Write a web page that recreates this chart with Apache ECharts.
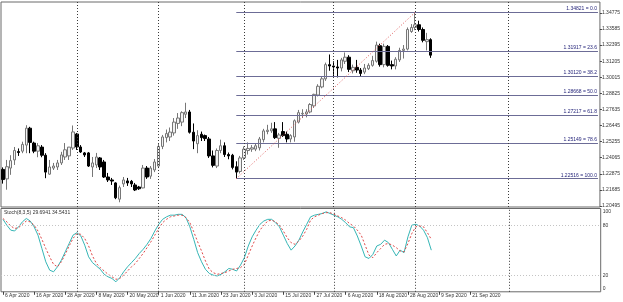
<!DOCTYPE html>
<html><head><meta charset="utf-8">
<script src="https://cdn.jsdelivr.net/npm/echarts@6/dist/echarts.min.js"></script>
<style>html,body{margin:0;padding:0;background:#fff}#c{width:623px;height:302px}</style>
</head><body><div id="c"></div>
<script>
// ---- data (GBPUSD daily) ----
const opens = [1.2320,1.2250,1.2330,1.2390,1.2452,1.2455,1.2500,1.2625,1.2515,1.2455,
1.2485,1.2425,1.2285,1.2330,1.2338,1.2368,1.2412,1.2420,1.2478,1.2582,
1.2486,1.2442,1.2442,1.2338,1.2353,1.2405,1.2375,1.2264,1.2242,1.2220,
1.2100,1.2213,1.2235,1.2232,1.2205,1.2190,1.2183,1.2330,1.2270,1.2316,
1.2345,1.2490,1.2555,1.2560,1.2590,1.2660,1.2670,1.2728,1.2745,1.2595,
1.2510,1.2580,1.2570,1.2545,1.2420,1.2345,1.2460,1.2495,1.2430,1.2425,
1.2340,1.2305,1.2405,1.2460,1.2470,1.2470,1.2480,1.2540,1.2600,1.2605,
1.2620,1.2550,1.2600,1.2580,1.2545,1.2560,1.2670,1.2730,1.2730,1.2745,
1.2790,1.2870,1.2930,1.2990,1.3095,1.3085,1.3078,1.3070,1.3120,1.3150,
1.3050,1.3075,1.3055,1.3040,1.3065,1.3090,1.3120,1.3235,1.3095,1.3230,
1.3095,1.3085,1.3130,1.3200,1.3210,1.3340,1.3370,1.3390,1.3355,1.3265,
1.3280];
const highs = [1.2335,1.2390,1.2425,1.2486,1.2475,1.2525,1.2647,1.2635,1.2525,1.2515,
1.2500,1.2440,1.2390,1.2368,1.2390,1.2450,1.2515,1.2486,1.2645,1.2590,
1.2500,1.2449,1.2449,1.2412,1.2442,1.2412,1.2390,1.2294,1.2257,1.2225,
1.2200,1.2264,1.2257,1.2242,1.2220,1.2198,1.2353,1.2345,1.2345,1.2397,
1.2510,1.2575,1.2615,1.2630,1.2700,1.2737,1.2750,1.2813,1.2760,1.2660,
1.2610,1.2600,1.2578,1.2560,1.2460,1.2475,1.2540,1.2520,1.2445,1.2435,
1.2380,1.2420,1.2490,1.2520,1.2500,1.2515,1.2560,1.2620,1.2650,1.2665,
1.2670,1.2590,1.2670,1.2600,1.2580,1.2690,1.2760,1.2765,1.2765,1.2810,
1.2880,1.2950,1.3010,1.3110,1.3170,1.3120,1.3130,1.3145,1.3185,1.3165,
1.3095,1.3130,1.3070,1.3100,1.3105,1.3160,1.3265,1.3250,1.3250,1.3240,
1.3125,1.3150,1.3220,1.3240,1.3370,1.3395,1.34821,1.3420,1.3370,1.3330,
1.3290];
const lows = [1.2215,1.2170,1.2280,1.2353,1.2420,1.2440,1.2440,1.2440,1.2440,1.2410,
1.2410,1.2255,1.2280,1.2316,1.2316,1.2353,1.2390,1.2390,1.2464,1.2464,
1.2442,1.2412,1.2338,1.2264,1.2330,1.2316,1.2257,1.2227,1.2205,1.2100,
1.2077,1.2190,1.2198,1.2190,1.2160,1.2168,1.2180,1.2250,1.2250,1.2300,
1.2330,1.2470,1.2520,1.2530,1.2570,1.2620,1.2640,1.2700,1.2585,1.2470,
1.2440,1.2530,1.2530,1.2405,1.2335,1.2330,1.2440,1.2412,1.2395,1.2320,
1.22516,1.2290,1.2390,1.2430,1.2450,1.2455,1.2460,1.2520,1.2580,1.2590,
1.2545,1.2480,1.2560,1.2520,1.2520,1.2525,1.2660,1.2700,1.2705,1.2735,
1.2775,1.2860,1.2920,1.2975,1.3050,1.3005,1.3000,1.3045,1.3100,1.3040,
1.3030,1.3035,1.3010,1.3025,1.3055,1.3080,1.3110,1.3080,1.3075,1.3080,
1.3060,1.3060,1.3115,1.3140,1.3200,1.3330,1.3350,1.3340,1.3260,1.3200,
1.3145];
const closes = [1.2245,1.2340,1.2385,1.2460,1.2445,1.2505,1.2625,1.2520,1.2455,1.2495,
1.2425,1.2300,1.2338,1.2345,1.2368,1.2427,1.2465,1.2485,1.2597,1.2486,
1.2449,1.2427,1.2345,1.2368,1.2412,1.2338,1.2264,1.2242,1.2234,1.2110,
1.2185,1.2242,1.2220,1.2213,1.2168,1.2177,1.2330,1.2264,1.2330,1.2375,
1.2490,1.2560,1.2585,1.2596,1.2670,1.2700,1.2740,1.2745,1.2595,1.2530,
1.2570,1.2555,1.2548,1.2420,1.2350,1.2460,1.2495,1.2430,1.2420,1.2335,
1.2300,1.2405,1.2470,1.2475,1.2480,1.2495,1.2545,1.2605,1.2610,1.2620,
1.2555,1.2575,1.2570,1.2545,1.2570,1.2680,1.2740,1.2735,1.2745,1.2800,
1.2875,1.2935,1.2990,1.3095,1.3085,1.3078,1.3070,1.3130,1.3150,1.3060,
1.3075,1.3055,1.3030,1.3070,1.3090,1.3125,1.3240,1.3095,1.3230,1.3090,
1.3085,1.3135,1.3200,1.3210,1.3355,1.3370,1.3390,1.3355,1.3275,1.3280,
1.3165];
const stochMain = [87,80,74,73,78,84,88,85,78,68,
52,36,26,24,30,38,48,58,68,71,
67,56,42,35,31,27,21,18,16,12,
17,24,30,35,40,46,51,57,64,73,
81,87,90,92,92,93,93,89,78,63,
47,36,27,22,20,19,21,24,28,27,
25,32,41,55,66,74,81,85,87,87,
83,78,68,58,50,55,62,72,81,90,
92,93,94,96,94,92,90,87,83,78,
77,67,55,42,40,45,55,57,62,59,
51,43,50,47,66,80,81,79,74,65,
50];
const stochSignal = [88,84,79,76,77,81,85,84,80,73,
63,52,42,33,30,36,45,55,64,70,
69,64,55,43,34,29,25,21,18,15,
16,20,25,30,34,40,46,53,60,68,
76,83,87,90,91,92,92,89,83,72,
60,49,37,27,23,21,22,23,25,27,
28,29,33,44,55,65,74,80,85,86,
84,80,73,65,59,57,61,67,75,86,
90,92,94,95,95,93,91,89,86,82,
79,74,68,56,44,41,47,52,57,58,
56,53,49,48,58,70,78,79,78,71,
63];
const priceTicks = [1.20495,1.21685,1.22875,1.24065,1.25255,1.26445,1.27635,1.28825,1.30015,1.31205,1.32395,1.33585,1.34775];
const stochTicks = [0,20,80,100];
const stochLevels = [20,80];
const dateLabels = ['2020-04-06','2020-04-16','2020-04-28','2020-05-08','2020-05-20','2020-06-01','2020-06-11','2020-06-23','2020-07-03','2020-07-15','2020-07-27','2020-08-06','2020-08-18','2020-08-28','2020-09-09','2020-09-21'];
const separatorDates = ['2020-05-01','2020-06-01','2020-07-01','2020-08-03','2020-09-01','2020-10-05'];
const fibPct = ['0.0','23.6','38.2','50.0','61.8','78.6','100.0'];
const fibPrice = [1.34821,1.31917,1.30120,1.28668,1.27217,1.25149,1.22516];
const fibLowDate = '2020-06-29', fibHighDate = '2020-09-01';
const stochTitle = 'Stoch(8,3,5) 29.6941 34.5431';

// category axis: trading days (weekdays) incl. chart-shift future area
const nCategories = 154;
const categories = [];
{ let t = Date.UTC(2020,3,6);
  while (categories.length < nCategories) {
    const d = new Date(t), w = d.getUTCDay();
    if (w !== 0 && w !== 6) categories.push(d.toISOString().slice(0,10));
    t += 86400000;
  } }
const lastCat = categories[categories.length-1];
const MON = ['Jan','Feb','Mar','Apr','May','Jun','Jul','Aug','Sep','Oct','Nov','Dec'];
const fmtDate = v => { const p = v.split('-'); return (+p[2]) + ' ' + MON[+p[1]-1] + ' ' + p[0]; };

const candleData = opens.map((o,i) => [o, closes[i], lows[i], highs[i]]);
const FONT = 'Liberation Sans';
const sepLine = { silent:true, symbol:['none','none'], animation:false, label:{show:false},
  lineStyle:{color:'#3a3a3a', type:[1,2], width:1},
  data: separatorDates.map(d => ({xAxis:d})) };

const fibLines = fibPrice.map((p,k) => [
  {coord:[fibLowDate, p], lineStyle:{color:'#6c6c96', width:1, type:'solid'},
   label:{show:true, position:'insideEndTop', distance:[1,1], formatter: p.toFixed(5) + ' = ' + fibPct[k],
     color:'#25257a', fontSize:5, fontFamily:FONT}},
  {coord:[lastCat, p]}
]);
const trend = [[{coord:[fibLowDate, fibPrice[6]], lineStyle:{color:'#e05a5a', type:[1,2], width:1}, label:{show:false}},
  {coord:[fibHighDate, fibPrice[0]]}]];

const chart = echarts.init(document.getElementById('c'), null, {renderer:'canvas'});
chart.setOption({
  animation:false,
  backgroundColor:'#ffffff',
  title:{text:stochTitle, left:4, top:210, padding:0,
    textStyle:{fontSize:5, fontWeight:'normal', color:'#333', fontFamily:FONT}},
  grid:[
    {left:1, top:2, width:599.7, height:205, show:true, borderColor:'#6a6a6a', borderWidth:1, backgroundColor:'#fff'},
    {left:1, top:208.5, width:599.7, height:83.3, show:true, borderColor:'#6a6a6a', borderWidth:1, backgroundColor:'#fff'}
  ],
  xAxis:[
    {type:'category', gridIndex:0, data:categories, boundaryGap:true,
     axisLine:{show:false}, axisTick:{show:false}, axisLabel:{show:false}, splitLine:{show:false}},
    {type:'category', gridIndex:1, data:categories, boundaryGap:true,
     axisLine:{show:false},
     axisTick:{show:true, alignWithLabel:true, length:3, interval:(i,v)=>dateLabels.includes(v), lineStyle:{color:'#444'}},
     axisLabel:{show:true, interval:(i,v)=>dateLabels.includes(v), formatter:fmtDate, align:'left', margin:1.5,
       padding:[0,0,0,2], fontSize:5, color:'#333', fontFamily:FONT},
     splitLine:{show:false}}
  ],
  yAxis:[
    {type:'value', gridIndex:0, position:'right', min:1.2042, max:1.35583, scale:true,
     axisLine:{show:false}, splitLine:{show:false},
     axisTick:{show:true, customValues:priceTicks, length:2, lineStyle:{color:'#444'}},
     axisLabel:{show:true, customValues:priceTicks, formatter:v=>v.toFixed(5), margin:2,
       fontSize:5, color:'#333', fontFamily:FONT}},
    {type:'value', gridIndex:1, position:'right', min:0, max:100,
     axisLine:{show:false}, splitLine:{show:false},
     axisTick:{show:false},
     axisLabel:{show:true, customValues:stochTicks, margin:2, fontSize:5, color:'#333', fontFamily:FONT,
       formatter:v => v===100 ? '{t|100}' : (v===0 ? '{b|0}' : String(v)),
       rich:{t:{padding:[7,0,0,0], fontSize:5, fontFamily:FONT, color:'#333'},
             b:{padding:[0,0,6,0], fontSize:5, fontFamily:FONT, color:'#333'}}}}
  ],
  series:[
    {type:'candlestick', xAxisIndex:0, yAxisIndex:0, data:candleData, barWidth:3,
     itemStyle:{color:'#f2f2f2', color0:'#000000', borderColor:'#777777', borderColor0:'#000000', borderWidth:1},
     markLine:{silent:true, symbol:['none','none'], animation:false, data:[...fibLines, ...trend]}},
    {type:'line', xAxisIndex:0, yAxisIndex:0, data:[], markLine:sepLine},
    {type:'line', xAxisIndex:1, yAxisIndex:1, data:stochMain, showSymbol:false, symbol:'none',
     lineStyle:{color:'#36b6b6', width:1},
     markLine:{silent:true, symbol:['none','none'], animation:false, label:{show:false},
       lineStyle:{color:'#c4c4c4', type:[1,2], width:1}, data:stochLevels.map(v=>({yAxis:v}))}},
    {type:'line', xAxisIndex:1, yAxisIndex:1, data:stochSignal, showSymbol:false, symbol:'none',
     lineStyle:{color:'#e04848', width:1, type:[2,2]}, markLine:sepLine}
  ]
});
</script></body></html>
